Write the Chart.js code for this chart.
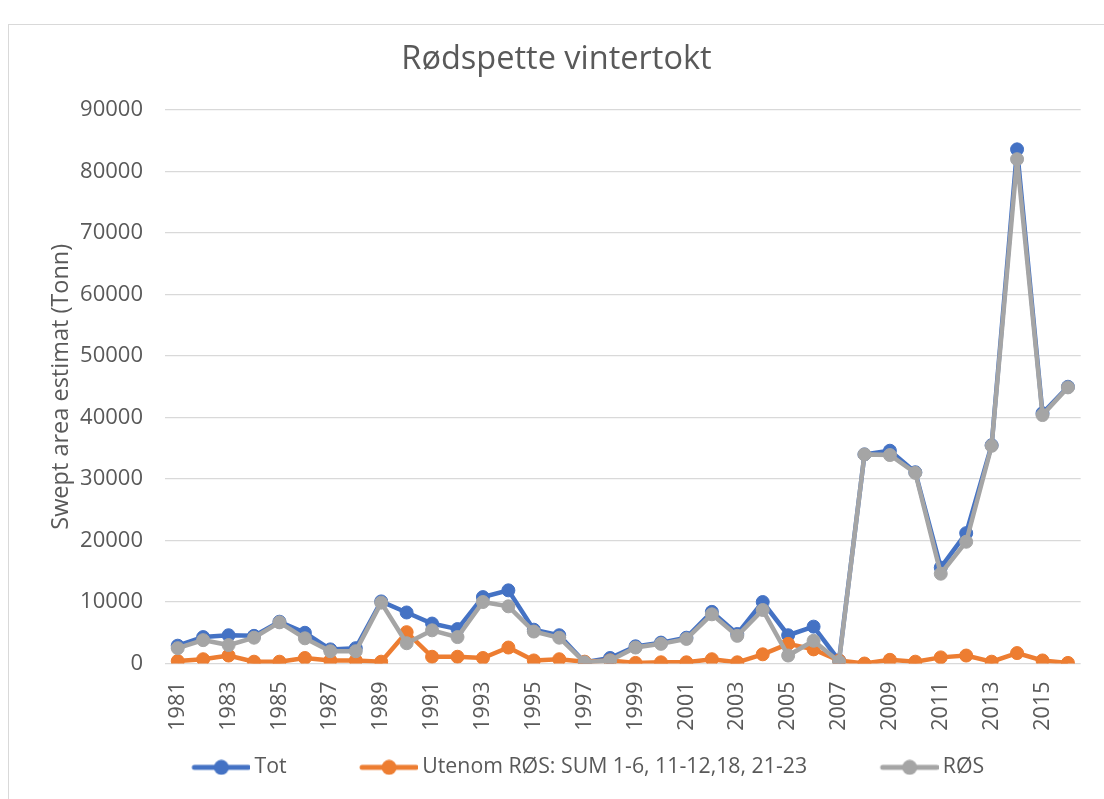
<!DOCTYPE html>
<html>
<head>
<meta charset="utf-8">
<script src="https://cdn.jsdelivr.net/npm/chart.js@4.4.1/dist/chart.umd.min.js"></script>
<style>
	html, body { margin: 0; padding: 0; background: #fff; overflow: hidden; }
	#frame { position: absolute; left: 8px; top: 24px; width: 1300px; height: 1000px; border: 1.5px solid #d9d9d9; }
	#wrap { position: absolute; left: 0; top: 0; width: 1104px; height: 799px; }
</style>
</head>
<body>
<div id="frame"></div>
<div id="wrap"><canvas id="chart"></canvas></div>
<script>
// år på x-aksen
let years = ['1981', '1982', '1983', '1984', '1985', '1986', '1987', '1988', '1989', '1990',
	'1991', '1992', '1993', '1994', '1995', '1996', '1997', '1998', '1999', '2000',
	'2001', '2002', '2003', '2004', '2005', '2006', '2007', '2008', '2009', '2010',
	'2011', '2012', '2013', '2014', '2015', '2016'];

// swept area estimat (tonn)
let tot = [2900, 4300, 4600, 4500, 6800, 5000, 2300, 2500, 10100, 8300,
	6500, 5600, 10800, 11900, 5500, 4600, 200, 900, 2800, 3400,
	4200, 8400, 4800, 10000, 4600, 6000, 500, 34000, 34600, 31100,
	15600, 21200, 35500, 83600, 40700, 45000];
let utenom = [400, 700, 1300, 300, 300, 900, 500, 500, 300, 5100,
	1100, 1100, 900, 2600, 500, 700, 300, 500, 100, 200,
	200, 700, 200, 1500, 3200, 2300, 500, 0, 600, 300,
	1000, 1300, 300, 1700, 500, 100];
let ros = [2500, 3800, 3000, 4200, 6700, 4100, 2000, 2000, 9900, 3300,
	5400, 4300, 10000, 9300, 5200, 4200, 200, 500, 2600, 3200,
	4000, 8000, 4500, 8700, 1300, 3700, 300, 34000, 33900, 31000,
	14600, 19800, 35400, 82000, 40400, 44900];

let seriesNames = ['Tot', 'Utenom RØS: SUM 1-6, 11-12,18, 21-23', 'RØS'];
let seriesColors = ['#4472C4', '#ED7D31', '#A5A5A5'];

let textColor = '#595959';
let fontName = "'Open Sans', sans-serif";

// legende-ikon: linje med punkt, med tom plass foran
function legendIcon(color) {
	let c = document.createElement('canvas');
	c.width = 128;
	c.height = 16;
	let g = c.getContext('2d');
	g.strokeStyle = color;
	g.lineWidth = 5;
	g.lineCap = 'round';
	g.beginPath();
	g.moveTo(72, 8);
	g.lineTo(126, 8);
	g.stroke();
	g.fillStyle = color;
	g.beginPath();
	g.arc(99, 8, 7.5, 0, Math.PI * 2);
	g.fill();
	return c;
}

function makeSet(i, values, order) {
	return {
		label: seriesNames[i],
		data: values,
		borderColor: seriesColors[i],
		backgroundColor: seriesColors[i],
		pointBackgroundColor: seriesColors[i],
		pointBorderColor: seriesColors[i],
		borderWidth: 4.5,
		pointRadius: 6.5,
		pointBorderWidth: 1,
		tension: 0,
		order: order
	};
}

new Chart(document.getElementById('chart'), {
	type: 'line',
	data: {
		labels: years,
		datasets: [makeSet(0, tot, 3), makeSet(1, utenom, 2), makeSet(2, ros, 1)]
	},
	options: {
		responsive: true,
		maintainAspectRatio: false,
		animation: false,
		layout: { padding: { left: 28, right: 19, top: 0, bottom: 11 } },
		plugins: {
			title: {
				display: true,
				text: 'Rødspette vintertokt',
				color: textColor,
				font: { family: fontName, size: 32.5, weight: 'normal' },
				padding: { top: 40, bottom: 31 }
			},
			legend: {
				position: 'bottom',
				labels: {
					usePointStyle: true,
					pointStyleWidth: 115,
					padding: 10,
					color: textColor,
					font: { family: fontName, size: 21.3 },
					generateLabels: function(chart) {
						return chart.data.datasets.map(function(ds, i) {
							return {
								text: ds.label,
								fillStyle: ds.borderColor,
								strokeStyle: ds.borderColor,
								lineWidth: 0,
								pointStyle: legendIcon(ds.borderColor),
								fontColor: textColor,
								hidden: !chart.isDatasetVisible(i),
								datasetIndex: i
							};
						});
					}
				}
			},
			tooltip: { enabled: false }
		},
		scales: {
			x: {
				offset: true,
				grid: { display: false },
				border: { display: false },
				afterFit: function(scale) {
					scale.height += 6;
				},
				ticks: {
					autoSkip: false,
					minRotation: 90,
					maxRotation: 90,
					padding: 10,
					color: textColor,
					font: { family: fontName, size: 21.5 },
					callback: function(val, i) {
						return i % 2 === 0 ? years[i] : '';
					}
				}
			},
			y: {
				min: 0,
				max: 90000,
				border: { display: false },
				grid: { color: '#d9d9d9', lineWidth: 1.3, drawTicks: false },
				afterFit: function(scale) {
					scale.width = 137;
				},
				ticks: {
					stepSize: 10000,
					padding: 22,
					color: textColor,
					font: { family: fontName, size: 22 },
					callback: function(val) {
						return String(val);
					}
				},
				title: {
					display: true,
					text: 'Swept area estimat (Tonn)',
					color: textColor,
					font: { family: fontName, size: 23.5 },
					padding: { top: 19, bottom: 5 }
				}
			}
		}
	}
});
</script>
</body>
</html>
